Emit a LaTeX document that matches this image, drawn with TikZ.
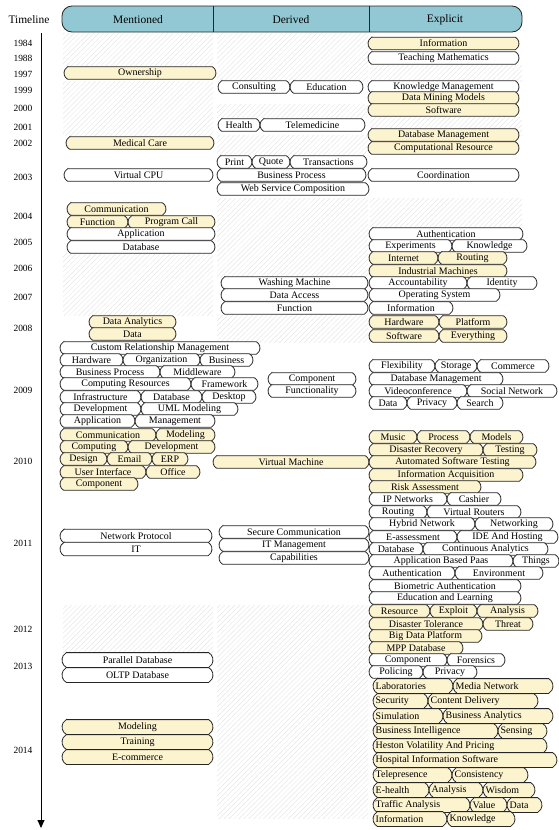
\documentclass[tikz,border=0pt]{standalone}
\usepackage{fontspec}
\setmainfont{Liberation Serif}
\usetikzlibrary{arrows.meta,patterns.meta}
\definecolor{headblue}{RGB}{146,200,212}
\definecolor{cream}{RGB}{252,243,207}
\tikzset{
    pillline/.style = {draw=black!85, line width=0.8bp},
    pilltext/.style = {inner sep=0pt, font=\fontsize{10}{11}\selectfont},
    yearlbl/.style = {inner sep=0pt, font=\fontsize{9.5}{10}\selectfont},
    headlbl/.style = {inner sep=0pt, font=\fontsize{11.5}{12}\selectfont},
    hatch/.style = {pattern={Lines[angle=45,distance=3.5bp,line width=0.3bp]}, pattern color=black!13},
}
% half height of a pill
\newcommand\hh{6.3}
% name, left x, right x, y, fill, text
\newcommand\pill[6]{%
    \filldraw[pillline, fill=#5] ({#2+0.58*\hh},{#4-\hh}) -- ({#3-0.58*\hh},{#4-\hh})
        arc[start angle=-60, end angle=60, radius={1.155*\hh}]
        -- ({#2+0.58*\hh},{#4+\hh})
        arc[start angle=120, end angle=240, radius={1.155*\hh}] -- cycle;
    \node[pilltext] (#1) at ({(#2+#3)/2},#4) {#6};}
\newcommand\pillL[6]{%
    \filldraw[pillline, fill=#5] ({#2+0.58*\hh},{#4-\hh}) -- ({#3-0.58*\hh},{#4-\hh})
        arc[start angle=-60, end angle=60, radius={1.155*\hh}]
        -- ({#2+0.58*\hh},{#4+\hh})
        arc[start angle=120, end angle=240, radius={1.155*\hh}] -- cycle;
    \node[pilltext, anchor=west] (#1) at ({#2+2.5},#4) {#6};}
% one row of touching pills: prefix, y, fill, list
\newcommand\boxrow[4]{\foreach \xl/\xr/\txt [count=\k] in {#4} {\pill{#1-\k}{\xl}{\xr}{#2}{#3}{\txt}}}
\newcommand\boxrowL[4]{\foreach \xl/\xr/\txt [count=\k] in {#4} {\pillL{#1-\k}{\xl}{\xr}{#2}{#3}{\txt}}}

\begin{document}
\begin{tikzpicture}[x=1bp, y=-1bp]
\useasboundingbox (0,0) rectangle (559,830);

% empty cells
\foreach \xa/\xb/\ya/\yb in {63/213/33/65, 63/213/81/135, 63/213/253/315, 63/213/605/652,
    217/368/33/81, 217/368/104/117, 217/368/135/155, 217/368/198/277, 217/368/315/342, 217/368/605/818,
    370/522/65/81, 370/522/117/135, 370/522/198/228}
    \fill[hatch] (\xa,\ya) rectangle (\xb,\yb);

% header
\filldraw[pillline, fill=headblue, rounded corners=10bp] (62,6) rectangle (522,32);
\draw[pillline] (213,6) -- (213,32);
\draw[pillline] (369,6) -- (369,32);
\node[headlbl] (hMen) at (138,19.5) {Mentioned};
\node[headlbl] (hDer) at (291,19.5) {Derived};
\node[headlbl] (hExp) at (445,19.5) {Explicit};

% timeline
\node[headlbl] (tl) at (29,20) {Timeline};
\coordinate (axtop) at (41,33);
\coordinate (axend) at (41,828);
\draw[line width=0.9bp, -{Triangle[width=7bp,length=8bp]}] (axtop) -- (axend);
\foreach \yr/\y in {1984/43, 1988/58, 1997/74, 1999/90, 2000/108, 2001/127, 2002/143, 2003/177,
    2004/216, 2005/242, 2006/268, 2007/297, 2008/328, 2009/390, 2010/461, 2011/543, 2012/629,
    2013/666, 2014/750}
    \node[yearlbl] (y\yr) at (23,\y) {\yr};

% Mentioned
\boxrow{m1}{73}{cream}{64/216/Ownership}
\boxrow{m2}{143}{cream}{66/214/Medical Care}
\boxrow{m3}{175}{white}{64/213/Virtual CPU}
\boxrow{m4}{209}{cream}{67/166/Communication}
\boxrow{m5}{222}{cream}{67/128/Function, 128/215/Program Call}
\boxrow{m6}{234}{white}{67/215/Application}
\boxrow{m7}{247}{white}{67/215/Database}
\boxrow{m8}{322}{cream}{89/176/Data Analytics}
\boxrow{m9}{334}{cream}{89/176/Data}
\boxrow{m10}{348}{white}{60/260/Custom Relationship Management}
\boxrow{m11}{360}{white}{60/123/Hardware, 123/200/Organization, 200/253/Business}
\boxrow{m12}{372}{white}{60/160/Business Process, 160/235/Middleware}
\boxrow{m13}{384}{white}{60/191/Computing Resources, 191/258/Framework}
\boxrow{m14}{397}{white}{60/141/Infrastructure, 141/202/Database, 202/256/Desktop}
\boxrow{m15}{409}{white}{60/141/Development, 141/238/UML Modeling}
\boxrow{m16}{421}{white}{60/135/Application, 135/215/Management}
\boxrow{m17}{435}{cream}{60/156/Communication, 156/215/Modeling}
\boxrow{m18}{447}{cream}{60/128/Computing, 128/215/Development}
\boxrow{m19}{459}{cream}{60/107/Design, 107/152/Email, 152/188/ERP}
\boxrow{m20}{472}{cream}{60/146/User Interface, 146/200/Office}
\boxrow{m21}{484}{cream}{60/138/Component}
\renewcommand\hh{6.7}
\boxrow{m22}{536}{white}{60/212/Network Protocol}
\boxrow{m23}{549}{white}{60/212/IT}
\renewcommand\hh{7.4}
\boxrow{m24}{660}{white}{62/213/Parallel Database}
\boxrow{m25}{675}{white}{62/213/OLTP Database}
\boxrow{m26}{727}{cream}{62/213/Modeling}
\boxrow{m27}{742}{cream}{62/213/Training}
\boxrow{m28}{757}{cream}{62/213/E-commerce}

% Derived
\renewcommand\hh{6.3}
\boxrow{d1}{87}{white}{218/290/Consulting, 290/363/Education}
\boxrow{d2}{125}{white}{218/260/Health, 260/365/Telemedicine}
\boxrow{d3}{162}{white}{217/252/Print, 252/290/Quote, 290/367/Transactions}
\boxrow{d4}{175}{white}{217/366/Business Process}
\boxrow{d5}{189}{white}{217/369/Web Service Composition}
\boxrow{d6}{283}{white}{221/368/Washing Machine}
\boxrow{d7}{295}{white}{221/368/Data Access}
\boxrow{d8}{308}{white}{221/368/Function}
\boxrow{d9}{379}{white}{268/356/Component}
\boxrow{d10}{391}{white}{268/356/Functionality}
\boxrow{d11}{462}{cream}{213/369/Virtual Machine}
\boxrow{d12}{532}{white}{219/369/Secure Communication}
\boxrow{d13}{545}{white}{219/369/IT Management}
\boxrow{d14}{558}{white}{219/369/Capabilities}

% Explicit
\boxrow{e1}{43.5}{cream}{368/519/Information}
\boxrow{e2}{58}{white}{368/519/Teaching Mathematics}
\boxrow{e3}{87}{white}{368/519/Knowledge Management}
\boxrow{e4}{98}{cream}{368/519/Data Mining Models}
\boxrow{e5}{110}{cream}{368/519/Software}
\boxrow{e6}{135}{cream}{368/519/Database Management}
\boxrow{e7}{148}{cream}{368/519/Computational Resource}
\boxrow{e8}{175}{white}{368/519/Coordination}
\boxrow{e9}{234}{white}{369/523/Authentication}
\boxrow{e10}{246}{white}{369/452/Experiments, 452/527/Knowledge}
\boxrow{e11}{258}{cream}{369/438/Internet, 438/507/Routing}
\boxrow{e12}{271}{cream}{369/507/Industrial Machines}
\boxrow{e13}{283}{white}{369/467/Accountability, 467/537/Identity}
\boxrow{e14}{295}{white}{369/500/Operating System}
\boxrow{e15}{308}{white}{369/453/Information}
\boxrow{e16}{322}{cream}{369/439/Hardware, 439/507/Platform}
\boxrow{e17}{336}{cream}{369/439/Software, 439/507/Everything}
\boxrow{e18}{366}{white}{369/435/Flexibility, 435/477/Storage, 477/549/Commerce}
\boxrow{e19}{379}{white}{369/503/Database Management}
\boxrow{e20}{391}{white}{369/467/Videoconference, 467/557/Social Network}
\boxrow{e21}{403}{white}{369/407/Data, 407/457/Privacy, 457/503/Search}
\boxrow{e22}{437}{cream}{369/417/Music, 417/470/Process, 470/523/Models}
\boxrow{e23}{450}{cream}{369/483/Disaster Recovery, 483/537/Testing}
\boxrow{e24}{462}{cream}{369/536/Automated Software Testing}
\boxrow{e25}{475}{cream}{369/523/Information Acquisition}
\boxrow{e26}{487}{cream}{369/481/Risk Assessment}
\boxrow{e27}{499}{white}{369/447/IP Networks, 447/501/Cashier}
\boxrow{e28}{512}{white}{369/427/Routing, 427/521/Virtual Routers}
\boxrow{e29}{524}{white}{369/475/Hybrid Network, 475/553/Networking}
\boxrow{e30}{537}{white}{369/457/E-assessment, 457/558/IDE And Hosting}
\boxrow{e31}{549}{white}{369/423/Database, 423/548/Continuous Analytics}
\boxrow{e32}{561}{white}{369/513/Application Based Paas, 513/559/Things}
\boxrow{e33}{573}{white}{369/455/Authentication, 455/543/Environment}
\boxrow{e34}{586}{white}{369/521/Biometric Authentication}
\boxrow{e35}{598}{white}{369/521/Education and Learning}
\boxrow{e36}{611}{cream}{369/430/Resource, 430/477/Exploit, 477/538/Analysis}
\boxrow{e37}{624}{cream}{369/483/Disaster Tolerance, 483/533/Threat}
\boxrow{e38}{636}{cream}{369/482/Big Data Platform}
\boxrow{e39}{648}{cream}{369/463/MPP Database}
\boxrow{e40}{660}{white}{369/447/Component, 447/505/Forensics}
\boxrow{e41}{672}{white}{369/423/Policing, 423/477/Privacy}
\renewcommand\hh{7.4}
\boxrowL{e42}{686}{cream}{373/453/Laboratories, 453/553/Media Network}
\boxrowL{e43}{701}{cream}{373/428/Security, 428/538/Content Delivery}
\boxrowL{e44}{716}{cream}{373/443/Simulation, 443/553/Business Analytics}
\boxrowL{e45}{731}{cream}{373/498/Business Intelligence, 498/547/Sensing}
\boxrowL{e46}{746}{cream}{373/547/Heston Volatility And Pricing}
\boxrowL{e47}{760}{cream}{373/557/Hospital Information Software}
\boxrowL{e48}{775}{cream}{373/452/Telepresence, 452/528/Consistency}
\boxrowL{e49}{790}{cream}{373/429/E-health, 429/483/Analysis, 483/535/Wisdom}
\boxrowL{e50}{805}{cream}{373/470/Traffic Analysis, 470/507/Value, 507/542/Data}
\boxrowL{e51}{819}{cream}{373/447/Information, 447/515/Knowledge}
\end{tikzpicture}
\end{document}
